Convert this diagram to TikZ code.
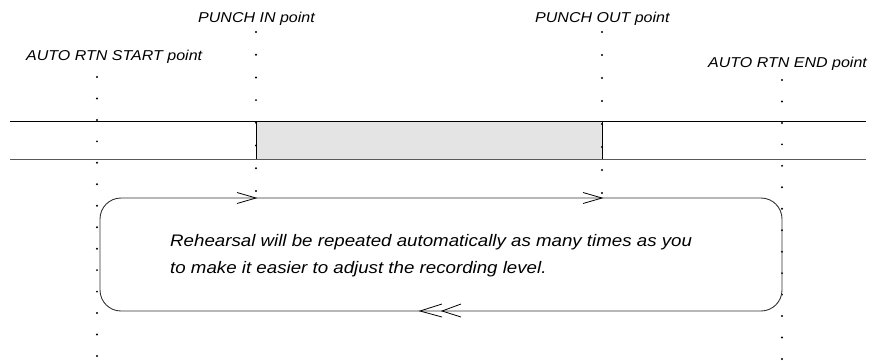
\documentclass[tikz,border=0pt]{standalone}
\usepackage{fontspec}
\setmainfont{Liberation Sans}[FakeStretch=1.12]
\usepackage{xcolor}
\usepackage{tikz}
\usetikzlibrary{arrows.meta,positioning,calc}
\definecolor{punchgray}{RGB}{228,228,228}

\begin{document}
\begin{tikzpicture}[
  x=1pt, y=-1pt,
  label/.style={font=\fontsize{14.3}{16}\selectfont\itshape, inner sep=0pt, anchor=base west},
  note/.style={font=\fontsize{16.7}{27}\selectfont\itshape, inner sep=0pt, align=left, anchor=base west},
  marker/.style={fill=black, circle, inner sep=0pt, minimum size=2.2pt},
  track/.style={line width=1pt},
  loopline/.style={line width=0.9pt, black!80, rounded corners=21pt},
  chev/.style={line width=0.8pt}
]
\useasboundingbox (0,0) rectangle (876,360);

% tape track with punch region
\fill[punchgray] (256,121) rectangle (602,159);
\draw[track] (10,121) -- (866,121);
\draw[track, black!65] (10,159) -- (866,159);
\draw[track] (256,121) -- (256,159);
\draw[track] (602,121) -- (602,159);

% dotted marker lines
\foreach \i in {0,...,13} {
  \node[marker] at (97,77+21.46*\i) {};
  \node[marker] at (782,80+21.46*\i) {};
}
\foreach \i in {0,...,7} {
  \node[marker] at (256,32+22.7*\i) {};
  \node[marker] at (602,32+23*\i) {};
}

% point labels
\node[label] (pin) at (198,22) {PUNCH IN point};
\node[label] (pout) at (535,22) {PUNCH OUT point};
\node[label] (rstart) at (26,60) {AUTO RTN START point};
\node[label] (rend) at (708,67) {AUTO RTN END point};

% rehearsal loop
\draw[loopline] (100,198) rectangle (782,311);
\draw[chev] (237,192.5) -- (256,198) -- (237,203.5);
\draw[chev] (583,192.5) -- (602,198) -- (583,203.5);
\draw[chev] (442,304) -- (420,311) -- (442,317);
\draw[chev] (461,304) -- (442,311) -- (461,317);

\node[note] (msg) at (170,273) {Rehearsal will be repeated automatically as many times as you\\to make it easier to adjust the recording level.};
\end{tikzpicture}
\end{document}
